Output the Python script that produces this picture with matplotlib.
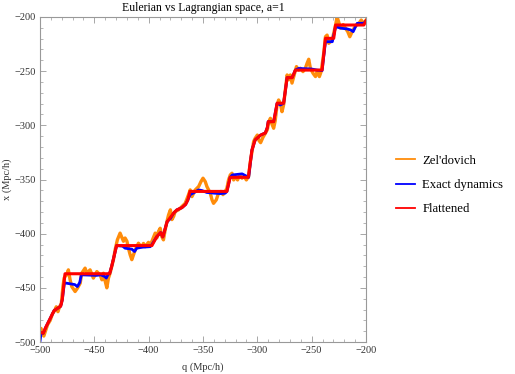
import numpy as np
import matplotlib
matplotlib.use("Agg")
import matplotlib.pyplot as plt
from matplotlib.ticker import MultipleLocator, FuncFormatter

# Zel'dovich trajectory: (q, x)
zel_q = [-500.0, -499.0, -498.0, -496.5, -494.7, -493.0, -490.6, -488.5, -486.5, -485.0,
         -483.5, -482.0, -480.4, -478.9, -477.8, -476.6, -475.4, -473.9, -472.3, -470.8,
         -467.7, -465.6, -463.0, -461.6, -458.5, -457.0, -453.9, -450.9, -447.7, -444.7,
         -443.0, -441.6, -440.0, -438.5, -437.0, -435.5, -432.4, -430.9, -428.8, -426.3,
         -423.2, -421.7, -420.0, -418.5, -417.0, -415.5, -414.0, -412.4, -410.9, -409.4,
         -407.8, -406.3, -404.8, -403.2, -401.7, -400.2, -398.6, -397.0, -394.0, -392.5,
         -391.0, -389.4, -387.9, -386.4, -384.8, -383.2, -381.7, -380.0, -378.6, -377.0,
         -375.6, -372.5, -369.4, -366.4, -363.3, -361.8, -360.2, -357.1, -354.0, -351.9,
         -350.0, -347.9, -346.4, -343.3, -341.7, -340.3, -337.8, -335.7, -333.5, -331.6,
         -329.5, -328.0, -326.5, -324.9, -323.3, -321.8, -320.3, -318.2, -316.3, -314.1,
         -312.0, -310.1, -308.0, -306.5, -304.9, -303.4, -302.0, -300.0, -298.5, -297.0,
         -294.8, -292.6, -290.8, -289.5, -288.0, -286.5, -285.0, -283.6, -281.8, -280.4,
         -278.8, -277.3, -275.8, -274.2, -272.6, -271.2, -269.6, -268.1, -266.5, -264.0,
         -262.0, -260.4, -258.0, -255.8, -254.2, -252.7, -251.2, -248.7, -246.5, -245.0,
         -242.9, -241.3, -238.9, -237.3, -235.8, -234.3, -232.7, -231.2, -229.7, -228.0,
         -226.6, -225.0, -223.5, -221.0, -218.9, -216.8, -214.9, -212.7, -211.0, -208.8,
         -206.6, -204.4, -202.0, -200.0]
zel_x = [-489.0, -487.5, -492.0, -494.5, -489.0, -484.0, -480.0, -474.0, -471.0, -467.5,
         -472.0, -467.5, -464.5, -449.0, -441.0, -439.0, -438.0, -433.4, -442.6, -448.8,
         -453.4, -450.4, -445.7, -436.5, -431.8, -436.5, -433.4, -441.0, -435.0, -438.0,
         -442.6, -436.5, -444.0, -450.0, -441.0, -436.5, -424.0, -415.0, -405.7, -399.5,
         -407.0, -404.0, -407.0, -414.0, -419.6, -424.0, -419.6, -415.0, -412.0, -408.8,
         -411.0, -412.0, -409.0, -412.0, -410.0, -408.0, -411.0, -407.0, -399.5, -404.0,
         -398.0, -395.0, -402.7, -405.7, -396.5, -388.8, -382.7, -378.0, -387.0, -384.0,
         -379.6, -378.0, -375.0, -372.0, -364.0, -359.6, -365.8, -359.6, -356.5, -352.0,
         -348.8, -352.0, -356.5, -362.6, -368.8, -372.0, -368.8, -362.6, -361.0, -364.0,
         -361.0, -358.0, -350.4, -345.8, -344.2, -350.4, -347.3, -350.4, -345.8, -348.8,
         -347.3, -350.4, -347.0, -334.0, -324.3, -315.0, -312.0, -309.0, -314.0, -316.0,
         -311.0, -307.3, -304.0, -297.0, -293.5, -299.0, -302.7, -296.0, -281.0, -276.6,
         -280.0, -287.4, -281.0, -267.3, -253.5, -258.0, -253.5, -261.0, -255.0, -245.8,
         -249.0, -247.3, -250.4, -247.3, -242.7, -239.0, -247.3, -252.0, -255.0, -250.4,
         -255.0, -250.4, -233.5, -218.2, -216.7, -224.3, -222.8, -221.3, -215.0, -207.4,
         -200.0, -205.0, -210.4, -207.0, -210.4, -213.5, -218.2, -213.5, -210.4, -207.4,
         -206.0, -202.8, -206.0, -203.0]

# Exact dynamics
exact_q = [-500.0, -499.0, -497.0, -495.0, -492.0, -489.5, -487.0, -484.0, -481.0, -479.5,
           -477.5, -468.0, -465.6, -463.4, -462.0, -448.0, -444.0, -440.4, -439.0, -437.0,
           -436.0, -434.0, -429.5, -424.0, -421.7, -415.5, -413.0, -411.0, -406.0, -398.6,
           -397.0, -392.5, -389.0, -387.0, -383.0, -380.0, -377.0, -374.0, -369.4, -366.0,
           -364.0, -361.8, -358.7, -354.0, -351.0, -346.4, -340.0, -334.0, -329.5, -328.0,
           -325.0, -323.0, -314.0, -308.0, -305.0, -302.0, -297.0, -292.6, -290.8, -290.0,
           -285.0, -281.8, -278.8, -275.8, -272.6, -268.0, -265.0, -262.0, -255.0, -250.0,
           -245.0, -240.4, -237.3, -231.0, -228.0, -222.0, -217.3, -214.0, -211.8, -209.7,
           -208.0, -202.0, -200.0]
exact_x = [-499.5, -491.6, -492.0, -487.0, -481.0, -476.0, -471.0, -469.0, -467.0, -461.0,
           -445.4, -447.0, -448.8, -445.0, -438.0, -438.5, -438.0, -439.6, -441.0, -437.0,
           -437.0, -430.0, -411.0, -411.5, -413.4, -414.3, -416.5, -413.4, -412.5, -412.0,
           -410.0, -402.7, -399.0, -403.0, -389.0, -386.0, -381.0, -378.0, -376.0, -373.0,
           -369.0, -364.0, -362.4, -359.6, -360.2, -362.0, -362.6, -363.0, -362.6, -361.0,
           -348.0, -345.8, -344.8, -348.0, -323.0, -313.5, -309.0, -307.0, -302.0, -296.6,
           -296.6, -279.6, -281.2, -279.6, -256.0, -256.0, -249.0, -247.5, -247.8, -248.0,
           -249.0, -249.5, -222.8, -222.8, -209.0, -210.5, -211.0, -212.0, -213.5, -209.0,
           -205.8, -205.8, -203.5]

# Flattened
flat_q = [-500.0, -497.0, -495.0, -492.0, -489.5, -487.0, -484.0, -481.0, -479.5, -477.0,
          -436.0, -434.0, -429.5, -397.0, -392.5, -389.0, -387.0, -383.0, -380.0, -377.0,
          -374.0, -369.4, -366.0, -364.0, -362.0, -328.0, -325.0, -308.3, -305.0, -302.0,
          -297.0, -292.6, -290.8, -290.0, -285.0, -281.8, -275.8, -272.6, -268.0, -265.0,
          -240.4, -237.3, -229.7, -228.0, -202.0, -200.0]
flat_x = [-491.0, -492.0, -487.0, -481.0, -476.0, -471.0, -469.0, -467.0, -461.0, -437.0,
          -437.0, -430.0, -411.0, -411.0, -402.7, -399.0, -403.0, -389.0, -385.0, -381.0,
          -378.0, -376.0, -373.0, -369.0, -361.0, -361.0, -348.0, -348.0, -323.0, -313.5,
          -309.0, -307.0, -302.0, -296.6, -296.6, -279.6, -279.6, -256.0, -256.0, -249.0,
          -249.0, -219.7, -219.7, -207.4, -207.4, -203.5]

plt.rcParams['font.family'] = ['Liberation Serif', 'DejaVu Serif']
plt.rcParams['axes.unicode_minus'] = True

fig = plt.figure(figsize=(5.15, 3.74), dpi=100)
ax = fig.add_axes([40 / 515, 32 / 374, 326 / 515, 325 / 374])

ax.plot(zel_q, zel_x, color='#ff8c0a', lw=2.4, label="Zel'dovich")
ax.plot(exact_q, exact_x, color='#0000ff', lw=2.0, label='Exact dynamics')
ax.plot(flat_q, flat_x, color='#ff0000', lw=2.2, label='Flattened')

ax.set_xlim(-500, -200)
ax.set_ylim(-500, -200)

# Mathematica-style frame: gray, ticks inward on every side
for sp in ax.spines.values():
    sp.set_color('#999999')
    sp.set_linewidth(0.8)
ax.xaxis.set_major_locator(MultipleLocator(50))
ax.xaxis.set_minor_locator(MultipleLocator(10))
ax.yaxis.set_major_locator(MultipleLocator(50))
ax.yaxis.set_minor_locator(MultipleLocator(10))
ax.tick_params(which='both', direction='in', top=True, right=True,
               color='#999999', labelsize=7.5, labelcolor='#333333', pad=3)
ax.tick_params(which='major', length=4, width=0.6)
ax.tick_params(which='minor', length=2, width=0.5)
fmt = FuncFormatter(lambda v, p: f"{int(v)}".replace('-', '\u2212'))
ax.xaxis.set_major_formatter(fmt)
ax.yaxis.set_major_formatter(fmt)

ax.set_xlabel('q (Mpc/h)', fontsize=7.5, color='#333333', labelpad=5)
ax.set_ylabel('x (Mpc/h)', fontsize=7.5, color='#333333', labelpad=2)
ax.set_title('Eulerian vs Lagrangian space, a=1', fontsize=8.5, pad=4)

leg = fig.legend(loc='center left', bbox_to_anchor=(384 / 515, 1 - 185 / 374),
                 frameon=False, fontsize=9.2, handlelength=1.5, handletextpad=0.6,
                 labelspacing=0.95)
for line in leg.get_lines():
    line.set_linewidth(1.3)

fig.savefig('out.png', dpi=100)
